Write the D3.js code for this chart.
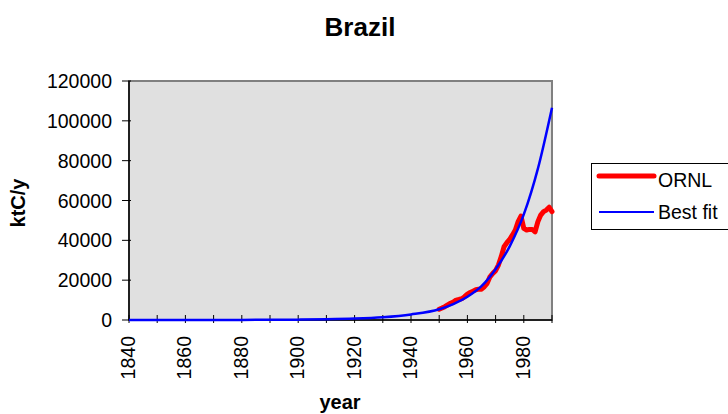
<!DOCTYPE html>
<html>
<head>
<meta charset="utf-8">
<script src="https://cdn.jsdelivr.net/npm/d3@7"></script>
<style>
  body { margin: 0; background: #fff; }
  svg { font-family: "Liberation Sans", Arial, sans-serif; }
</style>
</head>
<body>
<div id="container"></div>
<script>
// ORNL emissions, ktC/y
const ornlYears = [1950,1951,1952,1953,1954,1955,1956,1957,1958,1959,1960,1961,1962,1963,1964,1965,1966,1967,1968,1969,1970,
                   1971,1972,1973,1974,1975,1976,1977,1978,1979,1980,1981,1982,1983,1984,1985,1986,1987,1988,1989,1990]
const ornlValues = [5400,6000,6700,7600,8400,9000,10000,10300,10700,11700,13000,13800,14500,15200,15500,15500,16700,18400,21700,23400,24800,
                    27600,31800,36800,38800,40500,42700,45200,49400,52200,46000,45200,45500,45500,44300,49400,52700,54400,55200,56600,54400]

// best fit curve
const fitYears = [1840,1850,1860,1870,1880,1890,1900,1910,1920,1930,1940,1950,1955,1960,1965,1970,1975,1980,1985,1990]
const fitValues = [3,6,11,22,45,90,180,350,700,1400,2800,5400,8000,11700,17000,25500,37000,53000,76000,106600]

const yTicks = [0,20000,40000,60000,80000,100000,120000]
const xTicks = [1840,1850,1860,1870,1880,1890,1900,1910,1920,1930,1940,1950,1960,1970,1980,1990]
const xLabels = [1840,1860,1880,1900,1920,1940,1960,1980]

const width = 728
const height = 414
const plotL = 129, plotR = 552, plotT = 81, plotB = 320

const svg = d3.select("#container")
    .append("svg")
    .attr("width", width)
    .attr("height", height)

const x = d3.scaleLinear().domain([1840, 1990]).range([plotL, plotR])
const y = d3.scaleLinear().domain([0, 120000]).range([plotB, plotT])

svg.append("text")
    .attr("x", 360).attr("y", 36)
    .attr("text-anchor", "middle")
    .attr("font-size", 26).attr("font-weight", "bold")
    .text("Brazil")

// plot area
svg.append("rect")
    .attr("x", plotL).attr("y", plotT)
    .attr("width", plotR - plotL).attr("height", plotB - plotT)
    .attr("fill", "#e0e0e0")
    .attr("stroke", "#808080").attr("stroke-width", 2)

// y axis
const yAxis = svg.append("g")
yAxis.append("line")
    .attr("x1", plotL).attr("x2", plotL).attr("y1", plotT).attr("y2", plotB)
    .attr("stroke", "#000").attr("stroke-width", 1.5)
yAxis.selectAll(".yt").data(yTicks).enter().append("line")
    .attr("x1", plotL - 7).attr("x2", plotL + 2)
    .attr("y1", d => y(d)).attr("y2", d => y(d))
    .attr("stroke", "#000")
yAxis.selectAll("text").data(yTicks).enter().append("text")
    .attr("x", 112).attr("y", d => y(d) + 7)
    .attr("text-anchor", "end").attr("font-size", 19.5)
    .text(d => d)

// x axis
const xAxis = svg.append("g")
xAxis.append("line")
    .attr("x1", plotL).attr("x2", plotR).attr("y1", plotB).attr("y2", plotB)
    .attr("stroke", "#000").attr("stroke-width", 1.5)
xAxis.selectAll(".xt").data(xTicks).enter().append("line")
    .attr("x1", d => x(d)).attr("x2", d => x(d))
    .attr("y1", plotB - 5).attr("y2", plotB + 3)
    .attr("stroke", "#000")
xAxis.selectAll("text").data(xLabels).enter().append("text")
    .attr("transform", d => `translate(${x(d) + 6},${plotB + 16}) rotate(-90)`)
    .attr("text-anchor", "end").attr("font-size", 19.5)
    .text(d => d)

svg.append("text")
    .attr("transform", "translate(25,203) rotate(-90)")
    .attr("text-anchor", "middle")
    .attr("font-size", 20).attr("font-weight", "bold")
    .text("ktC/y")

svg.append("text")
    .attr("x", 340).attr("y", 409)
    .attr("text-anchor", "middle")
    .attr("font-size", 20).attr("font-weight", "bold")
    .text("year")

// lines
const ornl = ornlYears.map((yr, i) => [yr, ornlValues[i]])
const fit = fitYears.map((yr, i) => [yr, fitValues[i]])

svg.append("path")
    .datum(ornl)
    .attr("fill", "none").attr("stroke", "#ff0000").attr("stroke-width", 5)
    .attr("stroke-linejoin", "round").attr("stroke-linecap", "round")
    .attr("d", d3.line().x(d => x(d[0])).y(d => y(d[1])))

svg.append("path")
    .datum(fit)
    .attr("fill", "none").attr("stroke", "#0000ff").attr("stroke-width", 2.5)
    .attr("d", d3.line().curve(d3.curveMonotoneX).x(d => x(d[0])).y(d => y(d[1])))

// legend
const legend = svg.append("g")
legend.append("rect")
    .attr("x", 591.5).attr("y", 163.5).attr("width", 140).attr("height", 66)
    .attr("fill", "#fff").attr("stroke", "#000")
legend.append("line")
    .attr("x1", 599).attr("x2", 654).attr("y1", 176).attr("y2", 176)
    .attr("stroke", "#ff0000").attr("stroke-width", 5).attr("stroke-linecap", "round")
legend.append("text")
    .attr("x", 658).attr("y", 187).attr("font-size", 19.5).text("ORNL")
legend.append("line")
    .attr("x1", 599).attr("x2", 654).attr("y1", 212).attr("y2", 212)
    .attr("stroke", "#0000ff").attr("stroke-width", 2)
legend.append("text")
    .attr("x", 658).attr("y", 219).attr("font-size", 19.5).text("Best fit")
</script>
</body>
</html>
